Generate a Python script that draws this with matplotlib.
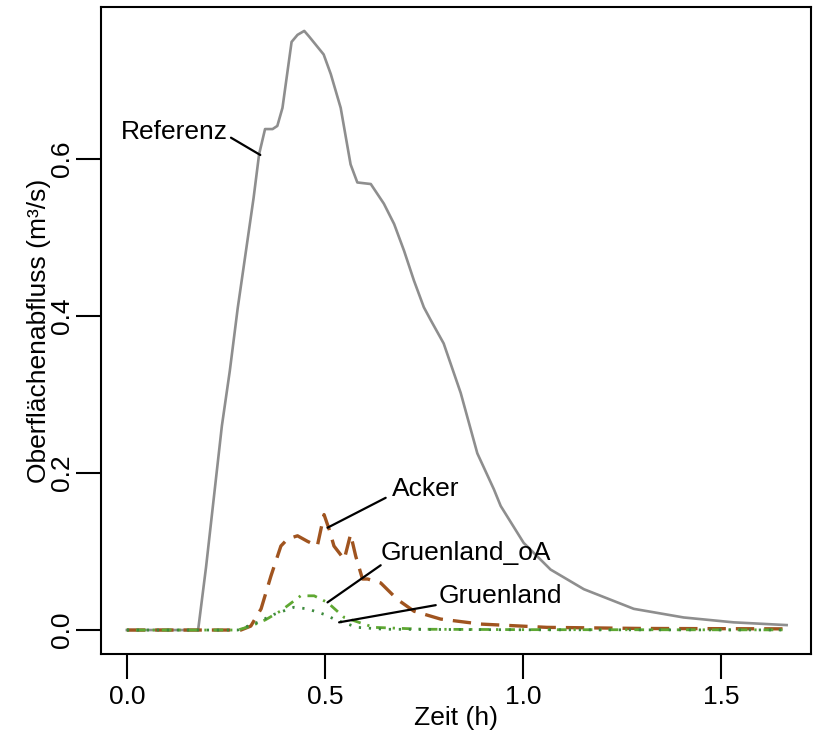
import matplotlib
matplotlib.use('Agg')
import matplotlib.pyplot as plt

plt.rcParams['font.family'] = ['Liberation Sans', 'DejaVu Sans']
plt.rcParams['font.size'] = 19

# Zeit (h) und Abfluss (m3/s)
t_ref = [0, 0.18, 0.20, 0.22, 0.24, 0.26, 0.28, 0.30, 0.32, 0.334, 0.349, 0.368,
         0.380, 0.393, 0.416, 0.431, 0.448, 0.460, 0.497, 0.515, 0.540, 0.565,
         0.582, 0.616, 0.649, 0.675, 0.700, 0.725, 0.750, 0.767, 0.80, 0.843,
         0.885, 0.927, 0.944, 1.002, 1.070, 1.154, 1.280, 1.406, 1.532, 1.666]
q_ref = [0, 0, 0.08, 0.17, 0.26, 0.33, 0.41, 0.48, 0.55, 0.606, 0.638, 0.638,
         0.642, 0.665, 0.749, 0.758, 0.763, 0.756, 0.733, 0.708, 0.665, 0.593,
         0.570, 0.568, 0.543, 0.517, 0.483, 0.445, 0.411, 0.395, 0.365, 0.302,
         0.225, 0.179, 0.158, 0.111, 0.077, 0.052, 0.027, 0.016, 0.0098, 0.0063]

t_acker = [0, 0.288, 0.313, 0.339, 0.364, 0.389, 0.406, 0.431, 0.456, 0.481, 0.498,
           0.511, 0.523, 0.549, 0.565, 0.578, 0.595, 0.608, 0.641, 0.683, 0.725,
           0.792, 0.893, 1.061, 1.30, 1.666]
q_acker = [0, 0, 0.005, 0.027, 0.069, 0.107, 0.116, 0.120, 0.113, 0.107, 0.147,
           0.128, 0.107, 0.090, 0.122, 0.094, 0.065, 0.065, 0.060, 0.039, 0.024,
           0.014, 0.0076, 0.0034, 0.002, 0.0015]

t_gr_oa = [0, 0.28, 0.313, 0.35, 0.389, 0.439, 0.473, 0.507, 0.549, 0.624, 0.75, 1.0, 1.666]
q_gr_oa = [0, 0, 0.005, 0.013, 0.0245, 0.0436, 0.0436, 0.035, 0.016, 0.0034, 0.001, 0.0005, 0.0002]

t_gr = [0, 0.28, 0.33, 0.372, 0.422, 0.456, 0.498, 0.532, 0.582, 0.65, 1.0, 1.666]
q_gr = [0, 0, 0.0098, 0.02, 0.029, 0.027, 0.02, 0.012, 0.0034, 0.001, 0.0003, 0.0001]

fig = plt.figure(figsize=(8.14, 7.33), dpi=100)
ax = fig.add_axes([0.1237, 0.1078, 0.9963 - 0.1237, 0.9905 - 0.1078])

ax.plot(t_ref, q_ref, color='#8e8e8e', lw=1.9)
ax.plot(t_acker, q_acker, color='#a0541f', lw=2.4, linestyle=(0, (5.5, 3)))
ax.plot(t_gr_oa, q_gr_oa, color='#5fa832', lw=2.0, linestyle=(0, (0.8, 2.5, 3.5, 2.5)))
ax.plot(t_gr, q_gr, color='#3c8a3c', lw=2.0, linestyle=(0, (0.8, 2.8)))

ax.set_xlim(-0.066, 1.7275)
ax.set_ylim(-0.0305, 0.7935)
ax.set_xticks([0.0, 0.5, 1.0, 1.5])
ax.set_xticklabels(['0.0', '0.5', '1.0', '1.5'])
ax.set_yticks([0.0, 0.2, 0.4, 0.6])
ax.set_yticklabels(['0.0', '0.2', '0.4', '0.6'], rotation=90, va='center')
ax.tick_params(direction='out', length=18, width=1.5)
ax.tick_params(axis='x', pad=4)
ax.tick_params(axis='y', pad=1.5)
for s in ax.spines.values():
    s.set_linewidth(1.5)

ax.set_xlabel('Zeit (h)', labelpad=-2)
ax.set_ylabel('Oberflächenabfluss (m³/s)', labelpad=-1)

# Beschriftungen mit Zeigerlinien
lab = dict(color='black', lw=1.6)
ax.text(0.2546, 0.6256, 'Referenz', ha='right', va='baseline')
ax.annotate('', xy=(0.337, 0.605), xytext=(0.263, 0.627),
            arrowprops=dict(arrowstyle='-', shrinkA=0, shrinkB=0, **lab))
ax.text(0.6705, 0.1704, 'Acker', ha='left', va='baseline')
ax.annotate('', xy=(0.5067, 0.1303), xytext=(0.6536, 0.1684),
            arrowprops=dict(arrowstyle='-', shrinkA=0, shrinkB=0, **lab))
ax.text(0.641, 0.0888, 'Gruenland_oA', ha='left', va='baseline')
ax.annotate('', xy=(0.5067, 0.0352), xytext=(0.641, 0.0825),
            arrowprops=dict(arrowstyle='-', shrinkA=0, shrinkB=0, **lab))
ax.text(0.788, 0.0343, 'Gruenland', ha='left', va='baseline')
ax.annotate('', xy=(0.536, 0.0098), xytext=(0.780, 0.0317),
            arrowprops=dict(arrowstyle='-', shrinkA=0, shrinkB=0, **lab))

plt.savefig('out.png', dpi=100)
